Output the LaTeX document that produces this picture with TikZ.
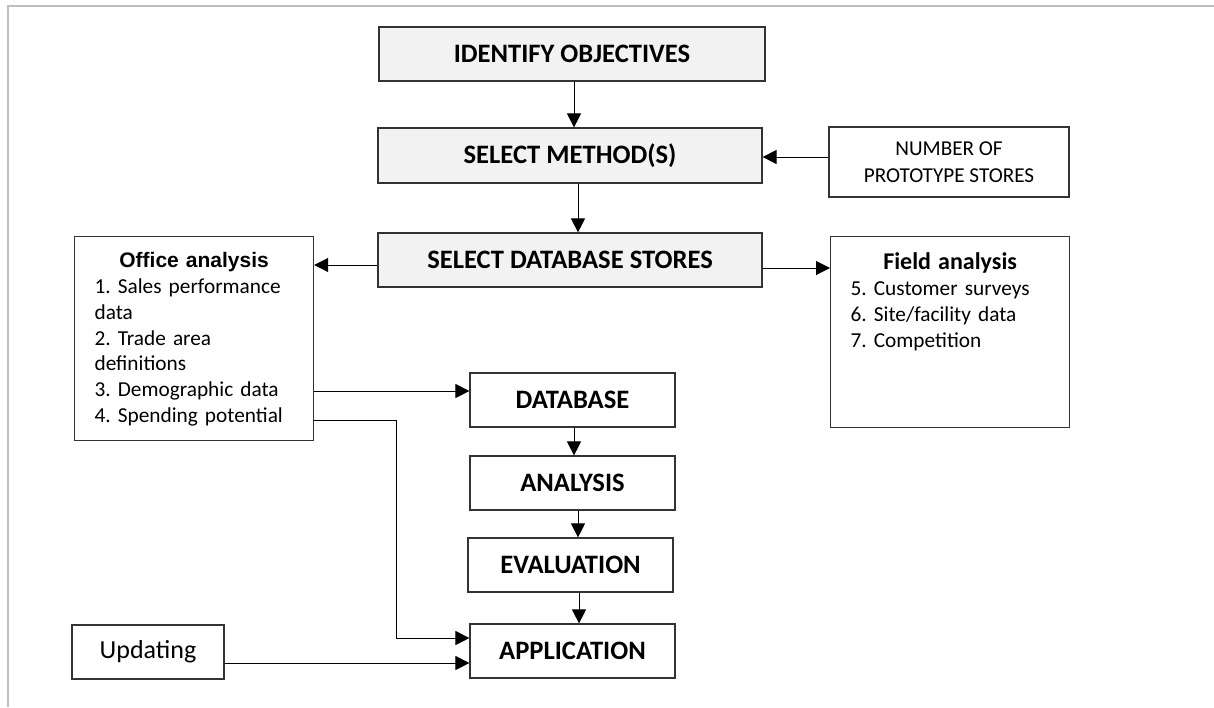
\documentclass[tikz,border=0pt]{standalone}
\usepackage{fontspec}
\setmainfont{Carlito}
\newfontfamily\arialfnt{Liberation Sans}
\usetikzlibrary{arrows.meta}
\frenchspacing
\newcommand{\Hd}{\fontsize{13.3}{16}\selectfont\bfseries}
\newcommand{\Lst}{\fontsize{10.65}{12.9}\selectfont}

\begin{document}
\begin{tikzpicture}[x=0.5pt, y=-0.5pt,
  every node/.style={draw=black!80, line width=0.6pt, inner sep=0pt},
  >={Triangle[length=7pt,width=7pt]}]
\useasboundingbox (0,0) rectangle (1214,707);
\draw[black!25, line width=1pt] (8,707) -- (8,6) -- (1214,6);
\node[fill=black!5, minimum width=193pt, minimum height=27pt, font=\Hd] (IO) at (572,54) {IDENTIFY OBJECTIVES};
\node[fill=black!5, minimum width=192pt, minimum height=27.5pt, font=\Hd] (MS) at (570,155.5) {SELECT METHOD(S)};
\node[fill=black!5, minimum width=192pt, minimum height=27pt, font=\Hd] (DS) at (570,260) {SELECT DATABASE STORES};
\node[minimum width=120pt, minimum height=35pt, align=center, font=\fontsize{10.6}{13.5}\selectfont] (NP) at (949,162) {NUMBER OF\\PROTOTYPE STORES};
\node[anchor=north west, inner xsep=10pt, text width=99.5pt, align=left, text height=15.5pt, text depth=86.5pt, font=\Lst] (OA) at (74,236)
  {{\centering\arialfnt\fontsize{10.5}{12.5}\selectfont\bfseries Office analysis\par}
   \raggedright 1. Sales performance\\ data\\ 2. Trade area\\ definitions\\ 3. Demographic data\\ 4. Spending potential};
\node[anchor=north west, inner xsep=10pt, text width=99.5pt, align=left, text height=16.5pt, text depth=79pt, font=\Lst] (FA) at (830,236)
  {{\centering\fontsize{12}{13.5}\selectfont\bfseries Field analysis\par}
   \raggedright 5. Customer surveys\\ 6. Site/facility data\\ 7. Competition};
\node[minimum width=102.5pt, minimum height=27pt, font=\Hd] (DB) at (572.5,400) {DATABASE};
\node[minimum width=102.5pt, minimum height=27pt, font=\Hd] (AN) at (572.5,483) {ANALYSIS};
\node[minimum width=102.5pt, minimum height=27pt, font=\Hd] (EV) at (570.5,565) {EVALUATION};
\node[minimum width=102.5pt, minimum height=27pt, font=\Hd] (AP) at (572.5,651) {APPLICATION};
\node[minimum width=76pt, minimum height=27pt, font=\fontsize{13}{15}\selectfont] (UP) at (148,652) {Updating};
\draw[->,line width=0.5pt] (IO.south -| 574,0) -- (MS.north -| 574,0);
\draw[->,line width=0.5pt] (MS.south -| 578,0) -- (DS.north -| 578,0);
\draw[->,line width=0.5pt] (NP.west |- 0,157) -- (MS.east |- 0,157);
\draw[->,line width=0.5pt] (DS.west |- 0,265) -- (OA.east |- 0,265);
\draw[->,line width=0.5pt] (DS.east |- 0,268) -- (FA.west |- 0,268);
\draw[->,line width=0.5pt] (OA.east |- 0,391) -- (DB.west |- 0,391);
\draw[->,line width=0.5pt] (OA.east |- 0,420) -| (396,638) -- (AP.west |- 0,638);
\draw[->,line width=0.5pt] (UP.east |- 0,663) -- (AP.west |- 0,663);
\draw[->,line width=0.5pt] (DB.south -| 574,0) -- (AN.north -| 574,0);
\draw[->,line width=0.5pt] (AN.south -| 578,0) -- (EV.north -| 578,0);
\draw[->,line width=0.5pt] (EV.south -| 579,0) -- (AP.north -| 579,0);
\end{tikzpicture}
\end{document}
